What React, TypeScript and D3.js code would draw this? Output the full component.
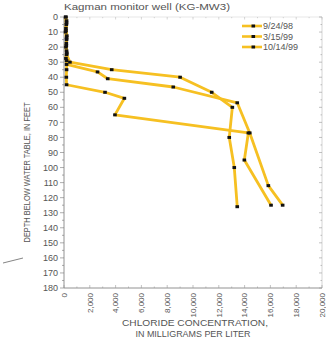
import React from "react";
import * as d3 from "d3";

// chloride profiles, Kagman monitor well (KG-MW3)
const seriesNames = ["9/24/98", "3/15/99", "10/14/99"];

const depth9824 = [0, 5, 10, 15, 20, 25, 30, 35, 40, 50, 60, 80, 100, 126];
const chloride9824 = [120, 180, 120, 200, 150, 200, 460, 3700, 9000, 11450, 13050, 12810, 13200, 13430];

const depth31599 = [2.5, 7.5, 12.5, 17.5, 22.5, 27.5, 31.5, 36.5, 41, 46.5, 57, 77, 112, 125];
const chloride31599 = [200, 150, 220, 180, 200, 150, 200, 2600, 3390, 8470, 13430, 14400, 15840, 16950];

const depth101499 = [0, 4, 9, 14, 19, 24, 29, 35, 40, 45, 50, 54, 65, 77, 95, 125];
const chloride101499 = [150, 200, 150, 200, 180, 220, 200, 200, 180, 200, 3180, 4680, 3950, 14290, 13980, 16050];

const depthTicks = d3.range(0, 181, 10);
const chlorideTicks = d3.range(0, 20001, 2000);

const W = 326;
const H = 341;
const margin = { top: 17, right: 4, bottom: 53, left: 64 };
const font = "'Liberation Sans', Arial, sans-serif";
const ink = "#555";
const lineColor = "#f6c022";

const App = () => {
  const innerW = W - margin.left - margin.right;
  const innerH = H - margin.top - margin.bottom;

  const x = d3.scaleLinear().domain([0, 20000]).range([0, innerW]);
  const y = d3.scaleLinear().domain([0, 180]).range([0, innerH]);

  const series = [
    { name: seriesNames[0], d: depth9824, v: chloride9824 },
    { name: seriesNames[1], d: depth31599, v: chloride31599 },
    { name: seriesNames[2], d: depth101499, v: chloride101499 },
  ];

  const line = d3
    .line<[number, number]>()
    .x((p) => x(p[0]))
    .y((p) => y(p[1]));

  const minorY = d3.range(0, 181, 5);
  const minorX = d3.range(0, 20001, 1000);

  return (
    <svg width={W} height={H} style={{ position: "absolute", left: 0, top: 0, background: "#fff" }}>
      <text x={margin.left} y={10} fontFamily={font} fontSize={9} fill={ink} textLength={166} lengthAdjust="spacingAndGlyphs">
        Kagman monitor well (KG-MW3)
      </text>

      {/* stray leader line at lower left */}
      <line x1={3} y1={263} x2={23} y2={258} stroke="#666" strokeWidth={0.8} />

      <g transform={`translate(${margin.left},${margin.top})`}>
        {/* frame */}
        <line x1={0} y1={0} x2={0} y2={innerH} stroke="#777" strokeWidth={0.8} />
        <line x1={0} y1={innerH} x2={innerW} y2={innerH} stroke="#777" strokeWidth={0.8} />
        <line x1={innerW} y1={0} x2={innerW} y2={innerH} stroke="#bbb" strokeWidth={0.6} />
        <line x1={0} y1={0} x2={innerW} y2={0} stroke="#ccc" strokeWidth={0.5} />

        {/* y ticks */}
        {minorY.map((t) => (
          <g key={"y" + t}>
            <line x1={t % 10 === 0 ? -4 : -2} x2={0} y1={y(t)} y2={y(t)} stroke="#777" strokeWidth={0.6} />
            <line x1={innerW} x2={innerW - (t % 10 === 0 ? 3 : 1.5)} y1={y(t)} y2={y(t)} stroke="#999" strokeWidth={0.6} />
          </g>
        ))}
        {depthTicks.map((t) => (
          <text key={"yl" + t} x={-6} y={y(t)} dy="0.35em" textAnchor="end" fontFamily={font} fontSize={9} fill={ink}>
            {t}
          </text>
        ))}

        {/* x ticks */}
        {minorX.map((t) => (
          <g key={"x" + t}>
            <line x1={x(t)} x2={x(t)} y1={innerH} y2={innerH - (t % 2000 === 0 ? 3 : 1.5)} stroke="#999" strokeWidth={0.6} />
            <line x1={x(t)} x2={x(t)} y1={0} y2={t % 2000 === 0 ? 2.5 : 1.2} stroke="#bbb" strokeWidth={0.6} />
          </g>
        ))}
        {chlorideTicks.map((t) => (
          <text
            key={"xl" + t}
            transform={`translate(${x(t)},${innerH + 5}) rotate(-90)`}
            dy="0.35em"
            textAnchor="end"
            fontFamily={font}
            fontSize={8}
            fill={ink}
          >
            {d3.format(",")(t)}
          </text>
        ))}

        {/* profiles */}
        {series.map((s) => (
          <path
            key={s.name}
            d={line(s.v.map((v, i) => [v, s.d[i]] as [number, number])) || ""}
            fill="none"
            stroke={lineColor}
            strokeWidth={2.8}
            strokeLinejoin="round"
          />
        ))}
        {series.map((s) =>
          s.v.map((v, i) => (
            <rect key={s.name + i} x={x(v) - 1.8} y={y(s.d[i]) - 1.5} width={3.6} height={3} fill="#111" />
          ))
        )}

        {/* legend */}
        {series.map((s, i) => (
          <g key={"lg" + s.name} transform={`translate(${178},${9 + i * 10.5})`}>
            <line x1={0} x2={20} y1={0} y2={0} stroke={lineColor} strokeWidth={2.6} />
            <rect x={9.5} y={-1.5} width={3.6} height={3} fill="#111" />
            <text x={21} y={0} dy="0.35em" fontFamily={font} fontSize={9} fill={ink}>
              {s.name}
            </text>
          </g>
        ))}
      </g>

      <text
        transform={`translate(30,${margin.top + innerH / 2 + 20}) rotate(-90)`}
        textAnchor="middle"
        fontFamily={font}
        fontSize={8.5}
        fill={ink}
        textLength={140}
        lengthAdjust="spacingAndGlyphs"
      >
        DEPTH BELOW WATER TABLE, IN FEET
      </text>

      <text x={195} y={326} textAnchor="middle" fontFamily={font} fontSize={9} fill={ink} textLength={146} lengthAdjust="spacingAndGlyphs">
        CHLORIDE CONCENTRATION,
      </text>
      <text x={193} y={337} textAnchor="middle" fontFamily={font} fontSize={9} fill={ink} textLength={115} lengthAdjust="spacingAndGlyphs">
        IN MILLIGRAMS PER LITER
      </text>
    </svg>
  );
};

export default App;
